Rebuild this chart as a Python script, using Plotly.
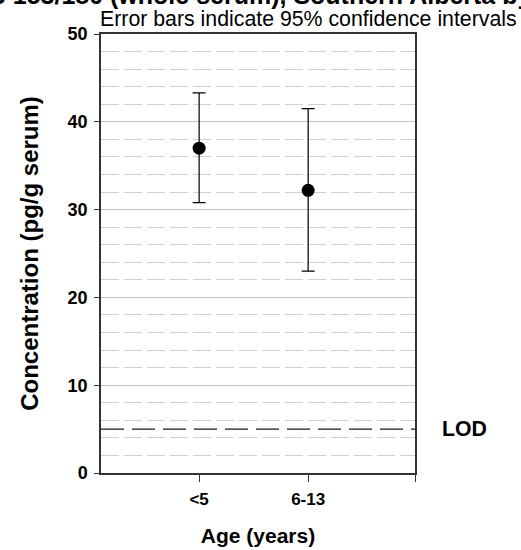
import plotly.graph_objects as go

categories = ["<5", "6-13"]
means = [37.0, 32.2]
ci_upper = [43.3, 41.5]
ci_lower = [30.8, 23.0]
lod_value = 5
y_ticks = [0, 10, 20, 30, 40, 50]

x_pos = list(range(len(categories)))
err_plus = [u - m for u, m in zip(ci_upper, means)]
err_minus = [m - l for m, l in zip(means, ci_lower)]

FONT = "Liberation Sans, Arial, sans-serif"
X_RANGE = [-0.9, 1.98]

fig = go.Figure()
# LOD line
fig.add_trace(go.Scatter(
    x=X_RANGE, y=[lod_value, lod_value], mode="lines",
    line=dict(color="#1a1a1a", width=1.2, dash="23px,8px"),
    showlegend=False, hoverinfo="skip",
))
fig.add_trace(go.Scatter(
    x=x_pos, y=means, mode="markers",
    marker=dict(color="black", size=13),
    error_y=dict(type="data", symmetric=False, array=err_plus, arrayminus=err_minus,
                 color="black", thickness=1.2, width=6.5),
    showlegend=False, hoverinfo="skip",
))

fig.update_layout(
    width=521, height=550,
    margin=dict(l=101, r=106, t=34, b=77, autoexpand=False),
    paper_bgcolor="white", plot_bgcolor="white",
    font=dict(family=FONT, color="black"),
)
fig.update_xaxes(
    range=X_RANGE, tickvals=[0, 1, X_RANGE[1]],
    ticktext=[f"<b>{c}</b>" for c in categories] + [""],
    ticks="outside", ticklen=7, tickwidth=1, tickcolor="#333333",
    showline=True, linecolor="#333333", linewidth=1.5, mirror=True,
    showgrid=False, zeroline=False, automargin=False,
    tickfont=dict(size=17, family=FONT), ticklabelstandoff=3,
    title=dict(text="<b>Age (years)</b>", font=dict(size=21, family=FONT), standoff=20),
)
fig.update_yaxes(
    range=[0, 50], tickvals=y_ticks, ticktext=[f"<b>{t}</b>" for t in y_ticks],
    ticks="outside", ticklen=5, tickwidth=1, tickcolor="#333333",
    showline=True, linecolor="#333333", linewidth=1.5, mirror=True,
    showgrid=True, gridcolor="#c4c4c4", gridwidth=1, zeroline=False, automargin=False,
    minor=dict(dtick=2, showgrid=True, gridcolor="#d0d0d0", griddash="18px,5px", gridwidth=1),
    tickfont=dict(size=18, family=FONT), ticklabelstandoff=3,
    title=dict(text="<b>Concentration (pg/g serum)</b>", font=dict(size=24, family=FONT), standoff=22),
)

fig.add_annotation(text="<b>PCB 153/180 (whole serum), Southern Alberta by Age</b>",
                   xref="paper", yref="paper", x=(268.5 - 101) / 314, y=1,
                   xanchor="center", yanchor="bottom", yshift=23,
                   showarrow=False, font=dict(size=25, family=FONT))
fig.add_annotation(text="Error bars indicate 95% confidence intervals",
                   xref="paper", yref="paper", x=0, y=1, xanchor="left", yanchor="bottom",
                   yshift=1, xshift=-3, showarrow=False, font=dict(size=21.3, family=FONT))
fig.add_annotation(text="<b>LOD</b>", xref="paper", yref="y", x=(440 - 101) / 314, y=lod_value,
                   xanchor="left", yanchor="middle", showarrow=False,
                   font=dict(size=21.3, family=FONT))

fig.write_html("out.html", config={"displayModeBar": False},
               post_script="document.body.style.margin='0px';")
